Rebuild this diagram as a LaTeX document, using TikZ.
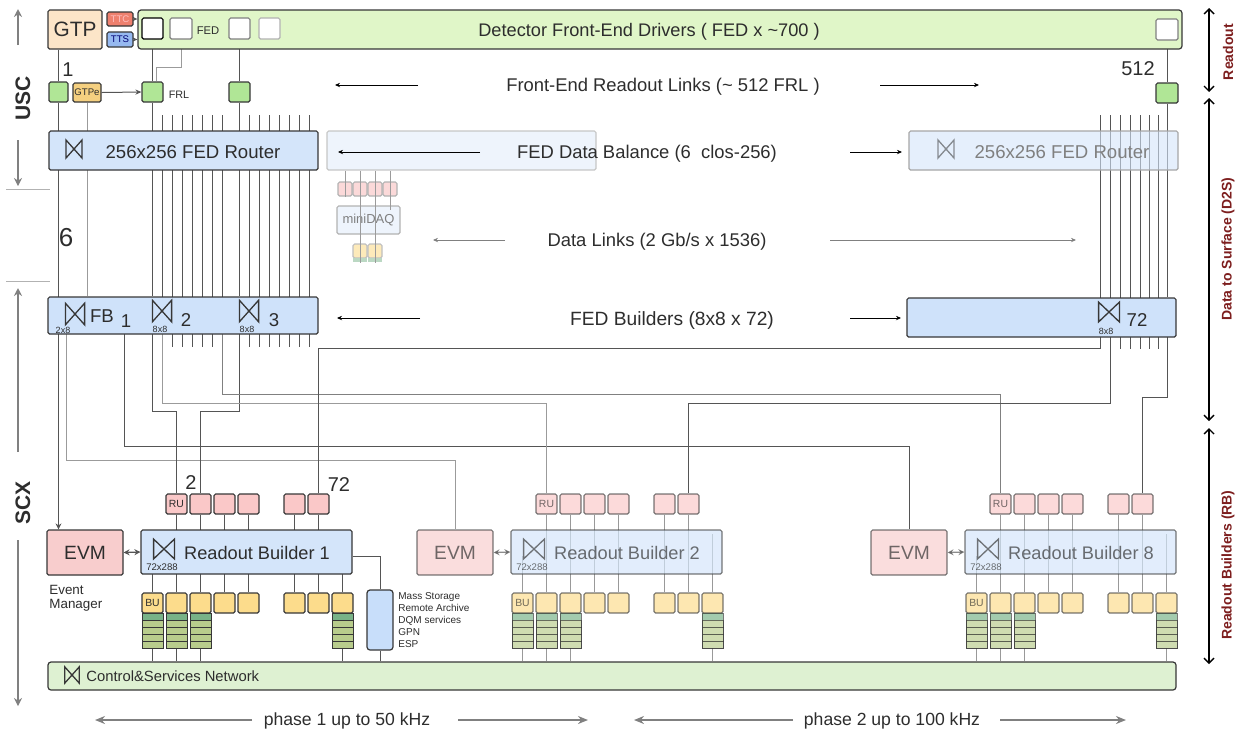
\documentclass[tikz,border=0pt]{standalone}
\usepackage{fontspec}
\setmainfont{Liberation Sans}
\usetikzlibrary{fit,arrows.meta,calc}
\pgfdeclarelayer{bg}
\pgfsetlayers{bg,main}
\newcommand\myfs[1]{\fontsize{#1}{#1}\selectfont}
\definecolor{bord}{RGB}{55,55,55}
\definecolor{lnc}{RGB}{85,85,85}
\definecolor{lgray}{RGB}{155,155,155}
\definecolor{txt}{RGB}{45,45,45}
\definecolor{fedg}{RGB}{224,246,200}
\definecolor{frlg}{RGB}{176,230,150}
\definecolor{gtpc}{RGB}{252,229,200}
\definecolor{ttcc}{RGB}{238,128,110}
\definecolor{ttsc}{RGB}{150,185,240}
\definecolor{gtpec}{RGB}{245,208,128}
\definecolor{rtb}{RGB}{212,229,250}
\definecolor{fbb}{RGB}{207,226,250}
\definecolor{dbl}{RGB}{238,244,252}
\definecolor{rup}{RGB}{250,200,200}
\definecolor{evmp}{RGB}{248,205,205}
\definecolor{buy}{RGB}{252,220,140}
\definecolor{stdg}{RGB}{120,178,135}
\definecolor{stol}{RGB}{184,204,140}
\definecolor{netg}{RGB}{222,241,210}
\definecolor{dred}{RGB}{125,30,30}
\definecolor{msb}{RGB}{200,222,250}
\begin{document}
\begin{tikzpicture}[x=0.5pt,y=-0.5pt,
  bx/.style={draw=bord,line width=0.6pt,inner sep=0pt,rounded corners=0.8pt},
  ln/.style={draw=lnc,line width=0.5pt},
  gl/.style={draw=lgray,line width=0.5pt},
  tx/.style={text=txt,inner sep=0pt},
  arr/.style={draw=black,line width=0.45pt,-{Stealth[length=2.5pt,width=2.2pt]}},
  bigarr/.style={draw=gray,line width=1.3pt,-{Stealth[length=5pt,width=4pt]}},
  sidearr/.style={draw=black,line width=0.7pt,{Straight Barb[length=2.5pt,width=5pt]}-{Straight Barb[length=2.5pt,width=5pt]}},
  lefarr/.style={draw=gray,line width=1.2pt,-{Stealth[length=4pt,width=4pt]}},
  dbarr/.style={draw=lnc,line width=0.6pt,{Stealth[length=3pt,width=3pt]}-{Stealth[length=3pt,width=3pt]}},
  bowtie/.pic={\draw[line width=0.65pt,draw=bord] (-8,-9) -- (-8,9) -- (8,-9) -- (8,9) -- cycle;}
]
\useasboundingbox (0,0) rectangle (1243,736);

% ---------- top: GTP, FED ----------
\node[bx,fill=gtpc,fit={(48,10)(102,49)}] (gtp) {};
\node[tx,font=\myfs{10.4}] at (gtp) {GTP};
\node[bx,fill=ttcc,fit={(107,12)(133,26)}] (ttc) {};
\node[tx,font=\myfs{4.8},text=white!75!red] at (ttc) {TTC};
\node[bx,fill=ttsc,fit={(107,32)(133,47)}] (tts) {};
\node[tx,font=\myfs{4.8},text=blue!45!black] at (tts) {TTS};
\node[bx,fill=fedg,fit={(138,10)(1182,49)},rounded corners=1.5pt] (fed) {};
\node[tx,font=\myfs{9.1}] at (649,32) {Detector Front-End Drivers ( FED x \textasciitilde700 )};
\node[bx,fill=white,draw=black,fit={(142,18)(163,39)}] (fedA) {};
\node[bx,fill=white,draw=gray,fit={(170,18)(192,39)}] (fedB) {};
\node[tx,font=\myfs{5.6}] at (208,31) {FED};
\node[bx,fill=white,draw=gray,fit={(229,18)(250,39)}] (fedC) {};
\node[bx,fill=white,draw=gray!60,fit={(259,18)(280,39)}] (fedD) {};
\node[bx,fill=white,draw=gray,fit={(1156,19)(1178,40)}] (fedZ) {};

% ---------- FRL row ----------
\node[bx,fill=frlg,fit={(49,82)(68,102)}] (frl1) {};
\node[bx,fill=gtpec,fit={(73,83)(101,102)}] (gtpe) {};
\node[tx,font=\myfs{4.8}] at (gtpe) {GTPe};
\node[bx,fill=frlg,fit={(142,82)(163,102)}] (frl2) {};
\node[tx,font=\myfs{5.4}] at (179,95) {FRL};
\node[bx,fill=frlg,fit={(229,82)(250,102)}] (frl3) {};
\node[bx,fill=frlg,fit={(1156,83)(1178,103)}] (frlZ) {};
\node[tx,font=\myfs{10}] at (68,70) {1};
\node[tx,font=\myfs{10}] at (1138,69) {512};
\node[tx,font=\myfs{9.2}] at (663,87) {Front-End Readout Links (\textasciitilde\ 512 FRL )};
\draw[arr] (418,85) -- (335,85);
\draw[arr] (880,85) -- (979,85);

% ---------- routers ----------
\node[bx,fill=rtb,fit={(49,131)(318,170)}] (rtA) {};
\pic at (74,149) {bowtie};
\node[tx,font=\myfs{9.3}] at (193,152) {256x256 FED Router};
\node[bx,fill=dbl,draw=gray!45,fit={(327,131)(596,170)}] (db) {};
\node[tx,font=\myfs{9.2}] at (647,154) {FED Data Balance (6\ \ clos-256)};
\draw[arr] (480,152) -- (338,152);
\draw[arr] (850,152) -- (902,152);
\node[bx,fill=rtb,fill opacity=0.6,draw=gray!70,fit={(909,131)(1178,170)}] (rtB) {};
\pic[opacity=0.55] at (946,149) {bowtie};
\node[tx,font=\myfs{9.3},text=gray] at (1062,152) {256x256 FED Router};

% ---------- miniDAQ ----------
\foreach \x [count=\i] in {338,353,368,383}
  \node[bx,fill=rup!70,draw=gray!60,fit={(\x,182)(\x+14,196)}] (mp\i) {};
\node[bx,fill=dbl,draw=gray!60,fit={(337,206)(400,234)}] (mdaq) {};
\node[tx,font=\myfs{6.5},text=gray] at (mdaq) {miniDAQ};
\node[bx,fill=buy!60,draw=gray!50,fit={(353,244)(367,258)}] (my1) {};
\node[bx,fill=buy!60,draw=gray!50,fit={(368,244)(382,258)}] (my2) {};
\fill[stdg!50] (353,258) rectangle (367,262);
\fill[stdg!50] (368,258) rectangle (382,262);
\draw[gl] (mp1.south |- db.south) -- (mp1.south);
\draw[gl] (mp2.south |- db.south) -- ($(my1.south)+(0,4)$);
\draw[gl] (mp3.south |- db.south) -- ($(my2.south)+(0,4)$);
\draw[gl] (mp4.south |- db.south) -- ($(mp4.south)+(0,13)$);
\node[tx,font=\myfs{9.2}] at (657,242) {Data Links (2 Gb/s x 1536)};
\draw[arr,draw=gray] (505,240) -- (433,240);
\draw[arr,draw=gray] (830,240) -- (1076,240);
\node[tx,font=\myfs{13}] at (66,238) {6};

% ---------- FED builders ----------
\node[bx,fill=fbb,fit={(48,297)(318,334)}] (fb) {};
\pic[xscale=1.2,yscale=1.2] at (75,314) {bowtie};
\node[tx,font=\myfs{9.3}] at (102,316) {FB};
\node[tx,font=\myfs{9.3}] at (126,321) {1};
\node[tx,font=\myfs{4.5}] at (63,330) {2x8};
\pic[xscale=1.2,yscale=1.2] at (162,311) {bowtie};
\node[tx,font=\myfs{9.3}] at (186,320) {2};
\node[tx,font=\myfs{4.5}] at (160,329) {8x8};
\pic[xscale=1.2,yscale=1.2] at (249,311) {bowtie};
\node[tx,font=\myfs{9.3}] at (274,320) {3};
\node[tx,font=\myfs{4.5}] at (247,329) {8x8};
\node[bx,fill=fbb,fit={(907,298)(1176,337)}] (fb72) {};
\pic[xscale=1.3,yscale=1.1] at (1109,312) {bowtie};
\node[tx,font=\myfs{9.3}] at (1137,320) {72};
\node[tx,font=\myfs{4.5}] at (1106,331) {8x8};
\node[tx,font=\myfs{9.6}] at (672,321) {FED Builders (8x8 x 72)};
\draw[arr] (420,318) -- (337,318);
\draw[arr] (850,318) -- (901,318);

% ---------- readout builders ----------
\node[bx,fill=netg,fit={(48,662)(1176,690)},rounded corners=1.5pt] (net) {};
\pic[scale=0.9] at (72,675) {bowtie};
\node[tx,anchor=west,font=\myfs{7.4}] at (86,676) {Control\&Services Network};

\foreach \ox/\nb/\opa in {0/1/1,370/2/0.68,824/8/0.68}{
 \begin{scope}[opacity=\opa]
  \node[bx,fill=evmp,fit={(47+\ox,530)(123+\ox,575)}] (evm\nb) {};
  \node[tx,font=\myfs{9.6}] at (evm\nb) {EVM};
  \node[bx,fill=rtb,fit={(141+\ox,530)(352+\ox,574)}] (rb\nb) {};
  \pic[xscale=1.3,yscale=1.1] at (164+\ox,549) {bowtie};
  \node[tx,font=\myfs{9.1}] at (257+\ox,553) {Readout Builder \nb};
  \node[tx,font=\myfs{4.8}] at (162+\ox,567) {72x288};
  \foreach \x [count=\i] in {166,190,214,238,284,308}
    \node[bx,fill=rup,fit={(\x+\ox,494)(\x+\ox+21,514)}] (ru-\nb-\i) {};
  \node[tx,font=\myfs{5.2}] at (ru-\nb-1) {RU};
  \foreach \x [count=\i] in {142,166,190,214,238,284,308,332}
    \node[bx,fill=buy,fit={(\x+\ox,593)(\x+\ox+21,613)}] (bu-\nb-\i) {};
  \node[tx,font=\myfs{5.2}] at (bu-\nb-1) {BU};
  \foreach \x/\m in {142/1,166/2,190/3,332/8}{
    \fill[stdg] (\x+\ox,613) rectangle (\x+\ox+21,620);
    \foreach \k in {0,...,3}
      \draw[draw=bord,line width=0.4pt,fill=stol] (\x+\ox,620+7*\k) rectangle (\x+\ox+21,627+7*\k);
    \draw[bord,line width=0.4pt] (\x+\ox,613) rectangle (\x+\ox+21,648);
    \coordinate (stk-\nb-\m) at (\x+\ox+10.5,648);
  }
  \draw[dbarr] (evm\nb.east) -- (rb\nb.west);
 \end{scope}
}
\node[tx,font=\myfs{10}] at (191,483) {2};
\node[tx,font=\myfs{10}] at (339,485) {72};
\node[tx,anchor=north west,align=left,font=\fontsize{6.7}{7}\selectfont] at (49,585) {Event\\Manager};
\node[bx,fill=msb,fit={(367,590)(393,650)},rounded corners=1.5pt] (ms) {};
\node[tx,anchor=north west,align=left,font=\fontsize{5}{6}\selectfont] at (398,592) {Mass Storage\\Remote Archive\\DQM services\\GPN\\ESP};

% ---------- side labels ----------
\node[rotate=90,font=\bfseries\myfs{10.5},text=txt] at (23,98) {USC};
\draw[lefarr] (18,45) -- (18,9);
\draw[lefarr] (18,140) -- (18,186);
\draw[gray!60,line width=0.5pt] (6,189) -- (50,189);
\draw[gray!60,line width=0.5pt] (6,281) -- (50,281);
\node[rotate=90,font=\bfseries\myfs{10.5},text=txt] at (23,503) {SCX};
\draw[lefarr] (18,452) -- (18,288);
\draw[lefarr] (18,540) -- (18,706);
\draw[sidearr] (1209,8) -- (1209,92);
\node[rotate=90,font=\bfseries\myfs{7},text=dred] at (1228,52) {Readout};
\draw[sidearr] (1209,98) -- (1209,421);
\node[rotate=90,font=\bfseries\myfs{7},text=dred] at (1228,249) {Data to Surface (D2S)};
\draw[sidearr] (1209,428) -- (1209,664);
\node[rotate=90,font=\bfseries\myfs{7},text=dred] at (1228,565) {Readout Builders (RB)};

% ---------- phases ----------
\node[tx,font=\myfs{8.8}] at (347,721) {phase 1 up to 50 kHz};
\draw[bigarr] (252,720) -- (95,720);
\draw[bigarr] (458,720) -- (588,720);
\node[tx,font=\myfs{8.8}] at (892,721) {phase 2 up to 100 kHz};
\draw[bigarr] (793,720) -- (634,720);
\draw[bigarr] (1000,720) -- (1126,720);

% ---------- connectors (background) ----------
\begin{pgfonlayer}{bg}
\draw[ln,-{Stealth[length=2.5pt,width=2.2pt]}] (ttc.east) -- (ttc.east -| fed.west);
\draw[ln,-{Stealth[length=2.5pt,width=2.2pt]}] (tts.east) -- (tts.east -| fed.west);
\draw[ln] (frl1.north |- gtp.south) -- (frl1.north);
\draw[ln,-{Stealth[length=3pt,width=3pt]}] (frl1.south) -- (frl1.south |- evm1.north);
\draw[gl] (gtpe.south) -- (gtpe.south |- fb.north);
\draw[ln,-{Stealth[length=3pt,width=2.6pt]}] (gtpe.east) -- (frl2.west);
\draw[ln] (fedA.south) -- (frl2.north);
\draw[gl] (fedB.south) -- ++(0,28) -| ($(frl2.north)+(4,0)$);
\draw[ln] (fedC.south) -- (frl3.north);
\draw[ln] (fedZ.south) -- (frlZ.north);
\draw[ln] (frl2.south) -- (frl2.south |- fb.north);
\draw[ln] (frl3.south) -- (frl3.south |- fb.north);
\foreach \x in {162.5,172.5,182.5,192.5,202.5,212.5,222.5,249.5,259.5,269.5,279.5,289.5,299.5,309.5}
  \draw[ln] (\x,115) -- (\x,297);
\foreach \x in {172.5,182.5,192.5,202.5,212.5,249.5,259.5,269.5,279.5,289.5,299.5,309.5}
  \draw[ln] (\x,334) -- (\x,347);
\foreach \x in {1100,1110,1120,1130,1140,1149,1158}
  \draw[ln] (\x,115) -- (\x,298);
\draw[ln] (frlZ.south) -- (frlZ.south |- fb72.north);
\foreach \x in {1120,1130,1140,1149,1158}
  \draw[ln] (\x,337) -- (\x,349);
% FED builders to readout builders
\draw[gl] (66,334) -- (66,460) -| (evm2.north);
\draw[ln] (124,334) -- (124,446) -| (evm8.north);
\draw[ln] (152.5,334) -- (152.5,411) -| (ru-1-1.north);
\draw[ln] (239.5,334) -- (239.5,411) -| (ru-1-2.north);
\draw[gl] (162.5,334) -- (162.5,403) -| (ru-2-1.north);
\draw[ln,draw=gray] (222.5,334) -- (222.5,394) -| (ru-8-1.north);
\draw[ln] (1100,337) -- (1100,348) -| (ru-1-6.north);
\draw[ln] (1110,337) -- (1110,403) -| (ru-2-6.north);
\draw[ln] (1167,337) -- (1167,397) -| (ru-8-6.north);
% inside readout builders
\foreach \nb/\opa in {1/1,2/0.6,8/0.6}{
  \foreach \i [count=\j from 2] in {1,...,6}
    \draw[ln,opacity=\opa] (ru-\nb-\i.south) -- (bu-\nb-\j.north);
  \draw[ln,opacity=\opa] (bu-\nb-1.north) -- ++(0,-36);
  \draw[ln,opacity=\opa] (bu-\nb-8.north) -- ++(0,-58);
  \foreach \m in {1,2,3,8}
    \draw[ln,opacity=\opa] (stk-\nb-\m) -- (stk-\nb-\m |- net.north);
}
\draw[ln] ($(rb1.east)+(0,4)$) -| (ms.north);
\draw[ln] (ms.south) -- (ms.south |- net.north);
\end{pgfonlayer}
\end{tikzpicture}
\end{document}
